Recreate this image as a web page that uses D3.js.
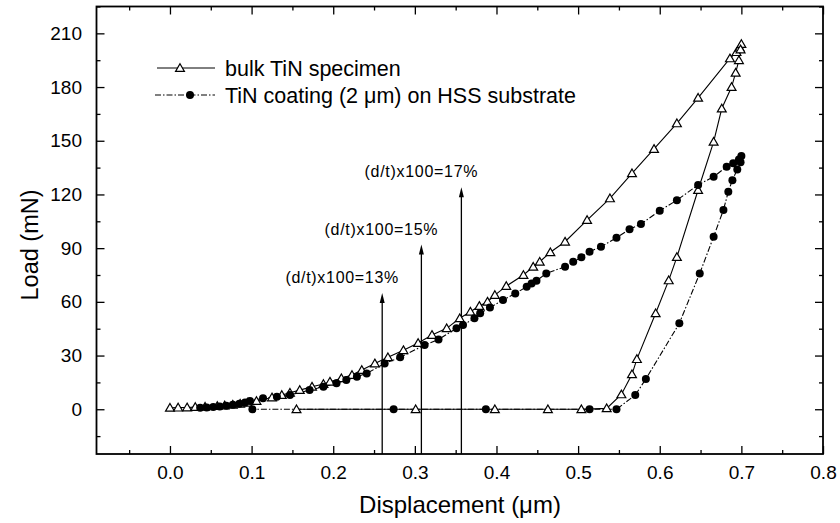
<!DOCTYPE html>
<html><head><meta charset="utf-8">
<script src="https://cdn.jsdelivr.net/npm/d3@7"></script>
<style>body{margin:0;background:#fff}svg{display:block}text{font-family:"Liberation Sans",Arial,sans-serif;fill:#000}</style>
</head><body><svg id="c" width="840" height="523"></svg>
<script>
// ---- data ----
const bulkX = [0.0,0.01,0.021,0.031,0.043,0.058,0.067,0.077,0.086,0.095,0.106,0.125,0.137,0.147,0.159,0.174,0.188,0.196,0.21,0.223,0.235,0.251,0.267,0.286,0.304,0.321,0.339,0.355,0.368,0.379,0.389,0.398,0.412,0.433,0.445,0.453,0.466,0.484,0.511,0.539,0.566,0.593,0.621,0.647,0.686,0.694,0.698,0.7,
  0.699,0.697,0.693,0.688,0.676,0.666,0.647,0.621,0.611,0.595,0.572,0.566,0.553,0.535,0.504,0.463,0.398,0.301,0.155];
const bulkY = [0.8,0.9,1.0,1.2,1.4,1.8,2.1,2.5,3.0,3.6,4.6,6.6,7.9,9.2,10.7,12.6,14.1,15.4,17.3,19.1,21.9,25.6,29.0,33.0,37.0,41.5,45.2,50.8,54.5,57.7,60.1,63.8,68.8,75.0,79.6,82.4,87.7,93.6,105.7,117.8,131.8,145.4,159.7,174.0,196.0,199.5,202.0,204.0,
  201.0,195.0,188.0,180.0,168.0,149.4,122.5,85.0,72.0,53.6,28.0,19.5,8.3,0.5,0,0,0,0,0];
const coatX = [0.037,0.045,0.053,0.061,0.069,0.077,0.085,0.092,0.098,0.114,0.131,0.147,0.171,0.188,0.204,0.216,0.229,0.241,0.263,0.282,0.312,0.329,0.351,0.359,0.373,0.38,0.392,0.408,0.423,0.437,0.443,0.449,0.461,0.484,0.494,0.504,0.514,0.528,0.547,0.563,0.577,0.6,0.621,0.647,0.666,0.682,0.69,0.697,0.7,
  0.699,0.695,0.689,0.684,0.678,0.666,0.649,0.624,0.583,0.57,0.547,0.514,0.387,0.274,0.101];
const coatY = [0.8,1.0,1.3,1.6,2.0,2.5,3.1,3.8,4.6,6.1,7.0,7.9,10.7,12.6,14.5,16.3,18.2,20.0,25.6,29.0,35.9,39.0,45.2,47.0,50.8,53.6,56.9,61.0,64.7,68.4,70.3,71.8,75.9,79.6,82.4,84.9,88.0,90.8,95.8,100.5,103.5,110.9,116.8,125.3,129.9,135.5,137.5,139.5,141.5,
  138.0,134.0,128.0,121.5,111.3,96.4,75.9,48.0,16.9,7.9,0,0,0,0,0];
const xMajor = [0.0,0.1,0.2,0.3,0.4,0.5,0.6,0.7,0.8];
const xMinor = [-0.05,0.05,0.15,0.25,0.35,0.45,0.55,0.65,0.75];
const yMajor = [0,30,60,90,120,150,180,210];
const yMinor = [-15,15,45,75,105,135,165,195,225];
const arrowX = [0.26,0.308,0.357];
const arrowTop = [65,92,124];
const arrowLabels = ["(d/t)x100=13%","(d/t)x100=15%","(d/t)x100=17%"];
const seriesNames = ["bulk TiN specimen","TiN coating (2 \u03bcm) on HSS substrate"];

// ---- chart ----
const svg = d3.select("#c");
const L=96.5,R=823,T=6.5,B=454;
const x = d3.scaleLinear().domain([-0.09,0.8]).range([L,R]);
const y = d3.scaleLinear().domain([-25,225]).range([B,T]);

function axisG(gen, tx, ty){ const g=svg.append("g").attr("transform",`translate(${tx},${ty})`).call(gen); g.select(".domain").remove(); g.selectAll("line").attr("stroke","#000").attr("stroke-width",1.3); return g; }
// bottom
axisG(d3.axisBottom(x).tickValues(xMajor).tickSize(-8).tickPadding(12).tickFormat(d3.format(".1f")),0,B)
  .selectAll("text").attr("font-size",19).attr("font-family","Liberation Sans, Arial");
axisG(d3.axisBottom(x).tickValues(xMinor).tickSize(-4).tickFormat(""),0,B);
// top
axisG(d3.axisTop(x).tickValues(xMajor).tickSize(-8).tickFormat(""),0,T);
axisG(d3.axisTop(x).tickValues(xMinor).tickSize(-4).tickFormat(""),0,T);
// left
axisG(d3.axisLeft(y).tickValues(yMajor).tickSize(-8).tickPadding(14.5).tickFormat(d3.format("d")),L,0)
  .selectAll("text").attr("font-size",19).attr("font-family","Liberation Sans, Arial");
axisG(d3.axisLeft(y).tickValues(yMinor).tickSize(-4).tickFormat(""),L,0);
// right
axisG(d3.axisRight(y).tickValues(yMajor).tickSize(-8).tickFormat(""),R,0);
axisG(d3.axisRight(y).tickValues(yMinor).tickSize(-4).tickFormat(""),R,0);

svg.append("rect").attr("x",L).attr("y",T).attr("width",R-L).attr("height",B-T)
  .attr("fill","none").attr("stroke","#000").attr("stroke-width",1.8);

// titles
svg.append("text").attr("x",460).attr("y",513).attr("text-anchor","middle").attr("font-size",24).text("Displacement (\u03bcm)");
svg.append("text").attr("transform","translate(38,245) rotate(-90)").attr("text-anchor","middle").attr("font-size",23.5).text("Load (mN)");

// arrows
arrowX.forEach((ax,i)=>{
  const px = x(ax), top = y(arrowTop[i]);
  svg.append("line").attr("x1",px).attr("x2",px).attr("y1",B).attr("y2",top+6).attr("stroke","#000").attr("stroke-width",1.3);
  svg.append("path").attr("d",`M${px},${top} L${px-2.5},${top+10} L${px+2.5},${top+10} Z`).attr("fill","#000");
  svg.append("text").attr("x",x(ax-0.049)).attr("y",top-10).attr("text-anchor","middle").attr("font-size",16).attr("letter-spacing",0.7).text(arrowLabels[i]);
});

// series
const bulk = bulkX.map((v,i)=>[v,bulkY[i]]);
const coat = coatX.map((v,i)=>[v,coatY[i]]);
const line = d3.line().x(d=>x(d[0])).y(d=>y(d[1]));
svg.append("path").attr("d",line(bulk)).attr("fill","none").attr("stroke","#000").attr("stroke-width",1.1);
svg.append("path").attr("d",line(coat)).attr("fill","none").attr("stroke","#000").attr("stroke-width",1.1).attr("stroke-dasharray","6,2,1.5,2");
const tri = d3.symbol().type(d3.symbolTriangle).size(34);
svg.append("g").selectAll("path").data(bulk).join("path")
  .attr("transform",d=>`translate(${x(d[0])},${y(d[1])+0.8})`).attr("d",tri())
  .attr("fill","#fff").attr("stroke","#000").attr("stroke-width",1.2);
svg.append("g").selectAll("circle").data(coat).join("circle")
  .attr("cx",d=>x(d[0])).attr("cy",d=>y(d[1])).attr("r",4).attr("fill","#000");

// legend
const lg = svg.append("g");
const rows=[68,95];
lg.append("line").attr("x1",157).attr("x2",215).attr("y1",rows[0]).attr("y2",rows[0]).attr("stroke","#000");
lg.append("path").attr("transform",`translate(180,${rows[0]+0.8})`).attr("d",tri()).attr("fill","#fff").attr("stroke","#000").attr("stroke-width",1.2);
lg.append("line").attr("x1",155).attr("x2",215).attr("y1",rows[1]).attr("y2",rows[1]).attr("stroke","#000").attr("stroke-dasharray","6,2,1.5,2");
lg.append("circle").attr("cx",190).attr("cy",rows[1]).attr("r",4).attr("fill","#000");
seriesNames.forEach((s,i)=>lg.append("text").attr("x",225).attr("y",rows[i]).attr("dy","0.35em").attr("font-size",21.5).text(s));
</script></body></html>
